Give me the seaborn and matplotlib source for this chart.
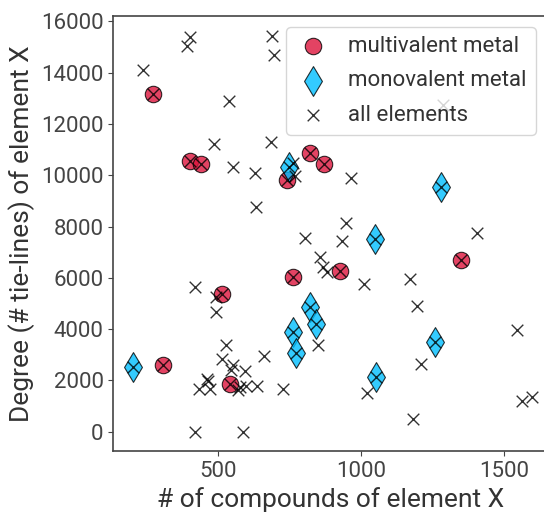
import numpy as np
import pandas as pd
import seaborn as sns
import matplotlib.pyplot as plt

# Data
# ==============================================================================
multi_x = [272, 401, 440, 740, 820, 870, 760, 925, 1349, 513, 307, 541]
multi_y = [13170, 10550, 10440, 9800, 10860, 10440, 6030, 6265, 6694, 5365, 2596, 1860]

mono_x = [203, 821, 842, 760, 772, 1049, 1258, 1051, 748, 1278]
mono_y = [2530, 4870, 4200, 3890, 3060, 7510, 3500, 2140, 10330, 9550]

other_x = [236, 401, 392, 538, 688, 696, 485, 684, 552, 628, 632, 760, 768, 964,
           947, 804, 933, 856, 867, 881, 1009, 1406, 1170, 1196, 1543, 1208,
           1019, 1182, 1561, 1596, 850, 420, 492, 492, 526, 513, 660, 550, 545,
           593, 459, 465, 433, 471, 569, 576, 597, 634, 727, 419, 587, 1287]
other_y = [14100, 15380, 15040, 12900, 15430, 14690, 11220, 11310, 10330, 10070,
           8750, 10490, 9970, 9880, 8120, 7540, 7450, 6800, 6430, 6240, 5760,
           7730, 5940, 4910, 3960, 2640, 1500, 500, 1210, 1360, 3380, 5630, 4670,
           5240, 3390, 2820, 2960, 2600, 2410, 2370, 2050, 1960, 1650, 1650, 1630,
           1740, 1780, 1800, 1650, 0, 0, 12740]

multi = pd.DataFrame({'n': multi_x, 'deg': multi_y})
mono = pd.DataFrame({'n': mono_x, 'deg': mono_y})
# all elements = every element, including the metals
allel = pd.DataFrame({'n': other_x + multi_x + mono_x,
                      'deg': other_y + multi_y + mono_y})

# Plot
# ==============================================================================
sns.set_style('ticks')
plt.rcParams['font.family'] = ['Roboto', 'DejaVu Sans']
plt.rcParams['text.color'] = '#333333'
plt.rcParams['axes.labelcolor'] = '#333333'
plt.rcParams['xtick.color'] = '#444444'
plt.rcParams['ytick.color'] = '#444444'

fig = plt.figure(figsize=(5.44, 5.12), dpi=100)
ax = fig.add_axes([0.2083, 0.1191, 0.797, 0.8496])

sns.scatterplot(data=multi, x='n', y='deg', marker='o', s=140, color='crimson',
                alpha=0.8, edgecolor='black', linewidth=0.8,
                label='multivalent metal', ax=ax)
sns.scatterplot(data=mono, x='n', y='deg', marker='d', s=230, color='deepskyblue',
                alpha=0.8, edgecolor='black', linewidth=0.8,
                label='monovalent metal', ax=ax)
sns.scatterplot(data=allel, x='n', y='deg', marker='x', s=70, color='black',
                alpha=0.8, linewidth=1.0, label='all elements', ax=ax)

ax.set_xlim(133, 1649)
ax.set_ylim(-752, 16206)
ax.set_xticks([500, 1000, 1500])
ax.set_yticks(range(0, 16001, 2000))
ax.tick_params(axis='both', labelsize=16)
ax.set_xlabel('# of compounds of element X', fontsize=19)
ax.set_ylabel('Degree (# tie-lines) of element X', fontsize=19)
for sp in ax.spines.values():
    sp.set_color('#444444')
    sp.set_linewidth(1.2)

ax.legend(loc='upper right', fontsize=16, frameon=True, markerscale=1.0,
          handlelength=1.6, handletextpad=0.8, labelspacing=0.6)

fig.savefig('out.png', dpi=100)
